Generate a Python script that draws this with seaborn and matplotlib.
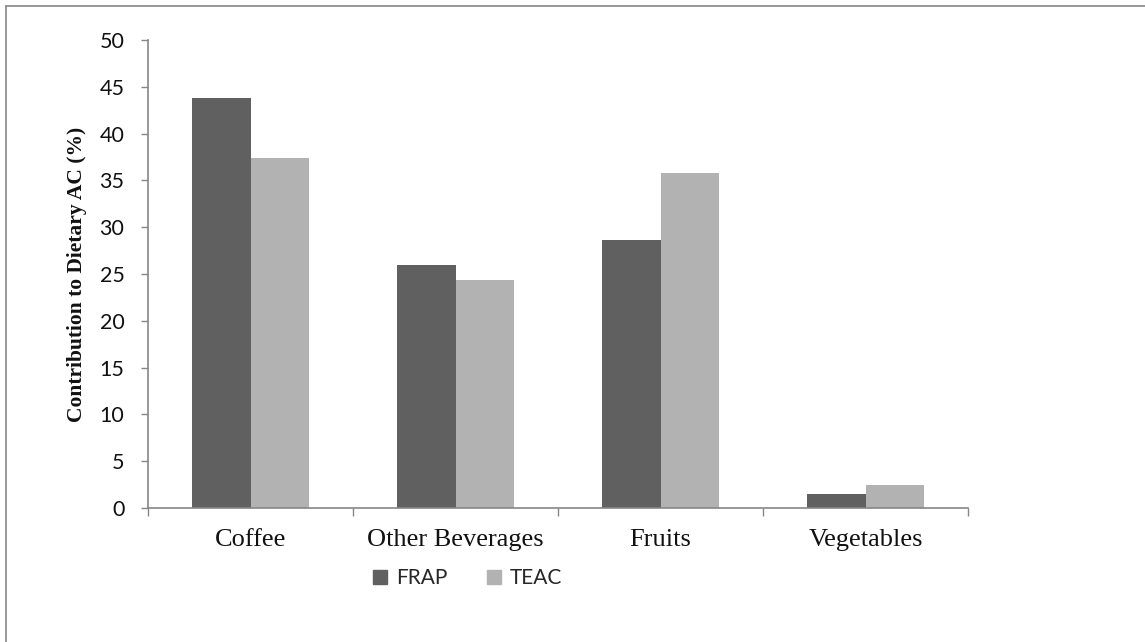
import pandas as pd
import matplotlib.pyplot as plt
import seaborn as sns
from matplotlib.lines import Line2D

# Data
categories = ["Coffee", "Other Beverages", "Fruits", "Vegetables"]
frap = [43.8, 26.0, 28.6, 1.5]
teac = [37.4, 24.4, 35.8, 2.5]
series = ["FRAP", "TEAC"]
yticks = [0, 5, 10, 15, 20, 25, 30, 35, 40, 45, 50]

df = pd.DataFrame({
    "Category": categories * 2,
    "Value": frap + teac,
    "Method": ["FRAP"] * len(categories) + ["TEAC"] * len(categories),
})

sns.set_theme(style="white")
plt.rcParams["font.family"] = ["Lato", "DejaVu Sans"]

fig = plt.figure(figsize=(11.45, 6.42), dpi=100)
ax = fig.add_axes([148 / 1145, 1 - 508 / 642, 820 / 1145, 468 / 642])

sns.barplot(data=df, x="Category", y="Value", hue="Method", order=categories,
            hue_order=series, palette=["#606060", "#b2b2b2"], width=0.566,
            saturation=1, ax=ax, legend=False)

axis_col = "#868686"
ax.set_xlim(-0.5, len(categories) - 0.5)
ax.set_ylim(0, 50)
ax.set_yticks(yticks)
ax.tick_params(axis="y", labelsize=15.5, length=5, width=1, color=axis_col,
               direction="out", left=True, pad=12, labelcolor="#111111")

# category labels without tick marks, boundary tick marks below the axis
ax.set_xticks(range(len(categories)))
ax.set_xticklabels(categories, family=["Liberation Serif"], fontsize=19)
ax.tick_params(axis="x", length=0, pad=15, labelcolor="#111111")
ax.set_xticks([i - 0.5 for i in range(len(categories) + 1)], minor=True)
ax.tick_params(axis="x", which="minor", length=6, width=1, color=axis_col,
               direction="out", bottom=True)

ax.set_xlabel("")
ax.set_ylabel("Contribution to Dietary AC (%)", family=["Liberation Serif"],
              fontweight="bold", fontsize=15.5, labelpad=9, color="#111111")

for s in ["top", "right"]:
    ax.spines[s].set_visible(False)
for s in ["left", "bottom"]:
    ax.spines[s].set_color(axis_col)
    ax.spines[s].set_linewidth(1.2)

# legend below the plot
for bar in ax.patches:
    bar.set_edgecolor("none")
handles = [plt.Rectangle((0, 0), 1, 1, color=c) for c in ["#606060", "#b2b2b2"]]
fig.legend(handles, series, loc="center", bbox_to_anchor=(468 / 1145, 1 - 578 / 642),
           ncol=2, frameon=False, fontsize=15, handlelength=0.65, handleheight=0.65,
           columnspacing=1.9, handletextpad=0.45)

# outer chart frame (top and left edges visible)
fig.add_artist(Line2D([6 / 1145, 1], [1 - 6 / 642, 1 - 6 / 642], color=axis_col, lw=1.2))
fig.add_artist(Line2D([6 / 1145, 6 / 1145], [0, 1 - 6 / 642], color=axis_col, lw=1.2))

fig.savefig("out.png", dpi=100, facecolor="white")
